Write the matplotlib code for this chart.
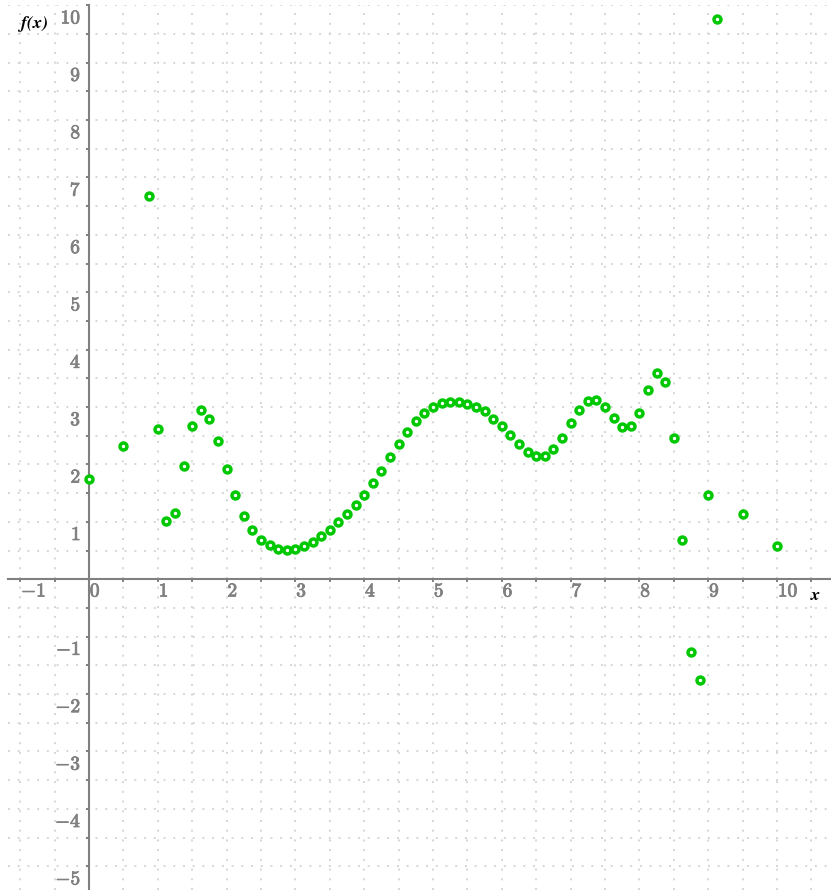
import numpy as np
import matplotlib
matplotlib.use("Agg")
import matplotlib.pyplot as plt
import matplotlib.patheffects as pe

plt.rcParams['mathtext.fontset'] = 'cm'

# sample points of f(x)
x_vals = [0, 0.5, 0.875, 1.0, 1.125, 1.25, 1.375, 1.5, 1.625, 1.75, 1.875,
          2.0, 2.125, 2.25, 2.375, 2.5, 2.625, 2.75, 2.875, 3.0, 3.125, 3.25,
          3.375, 3.5, 3.625, 3.75, 3.875, 4.0, 4.125, 4.25, 4.375, 4.5, 4.625,
          4.75, 4.875, 5.0, 5.125, 5.25, 5.375, 5.5, 5.625, 5.75, 5.875, 6.0,
          6.125, 6.25, 6.375, 6.5, 6.625, 6.75, 6.875, 7.0, 7.125, 7.25, 7.375,
          7.5, 7.625, 7.75, 7.875, 8.0, 8.125, 8.25, 8.375, 8.5, 8.625, 8.75,
          8.875, 9.0, 9.125, 9.5, 10.0]
y_vals = [1.75, 2.32, 6.68, 2.62, 1.02, 1.16, 1.97, 2.67, 2.95, 2.80, 2.41,
          1.92, 1.47, 1.11, 0.86, 0.69, 0.59, 0.53, 0.505, 0.53, 0.585, 0.655,
          0.76, 0.86, 0.99, 1.14, 1.29, 1.47, 1.67, 1.89, 2.13, 2.35, 2.57,
          2.75, 2.90, 3.0, 3.07, 3.09, 3.09, 3.06, 3.01, 2.93, 2.80, 2.67,
          2.51, 2.35, 2.21, 2.14, 2.15, 2.27, 2.47, 2.72, 2.95, 3.10, 3.12,
          3.0, 2.81, 2.66, 2.67, 2.90, 3.29, 3.60, 3.44, 2.47, 0.68, -1.27,
          -1.75, 1.46, 9.77, 1.14, 0.585]

x_tick_labels = [-1, 0, 1, 2, 3, 4, 5, 6, 7, 8, 9, 10]
y_tick_labels = [-5, -4, -3, -2, -1, 1, 2, 3, 4, 5, 6, 7, 8, 9, 10]

W, H = 831, 890
fig = plt.figure(figsize=(W / 100, H / 100), dpi=100)
ax = fig.add_axes([8 / W, 0, 1 - 8 / W, (H - 5.3) / H])
ax.set_xlim(-1.177, 10.785)
ax.set_ylim(-5.413, 10.0)

axis_grey = '#808080'

for side in ('top', 'right'):
    ax.spines[side].set_visible(False)
for side in ('left', 'bottom'):
    ax.spines[side].set_position(('data', 0))
    ax.spines[side].set_color(axis_grey)
    ax.spines[side].set_linewidth(1.5)
    ax.spines[side].set_zorder(2)

ax.set_xticks(np.arange(-1, 10.51, 0.5))
ax.set_yticks(np.arange(-5, 10.01, 0.5))
ax.tick_params(direction='out', length=2.2, width=1.4, color=axis_grey,
               labelbottom=False, labelleft=False)

ax.set_axisbelow(True)
ax.grid(True, color='#d6d6d6', linewidth=1.4, linestyle=(0, (1, 4)))

# numeric labels
bold = [pe.withStroke(linewidth=0.6, foreground=axis_grey)]
for v in x_tick_labels:
    ax.annotate(rf'${v}$', xy=(v, 0), xytext=(0.6, -8.4),
                textcoords='offset points', ha='left', va='center',
                fontsize=14, color=axis_grey, path_effects=bold)
for v in y_tick_labels:
    ax.annotate(rf'${v}$', xy=(0, v), xytext=(-5.6, -9.1),
                textcoords='offset points', ha='right', va='center',
                fontsize=14, color=axis_grey, annotation_clip=False,
                path_effects=bold)

fig.text(32 / W, 1 - 23.5 / H, r'$\mathbfit{f(x)}$', ha='center',
         va='center', fontsize=13, color='black')
fig.text(816 / W, 1 - 595 / H, r'$\mathbfit{x}$', ha='center', va='center',
         fontsize=13, color='black')

ax.plot(x_vals, y_vals, linestyle='none', marker='o', markersize=5.0,
        markeredgewidth=2.5, markeredgecolor='#00c800',
        markerfacecolor='white', clip_on=False, zorder=5)

fig.savefig('out.png', dpi=100)
